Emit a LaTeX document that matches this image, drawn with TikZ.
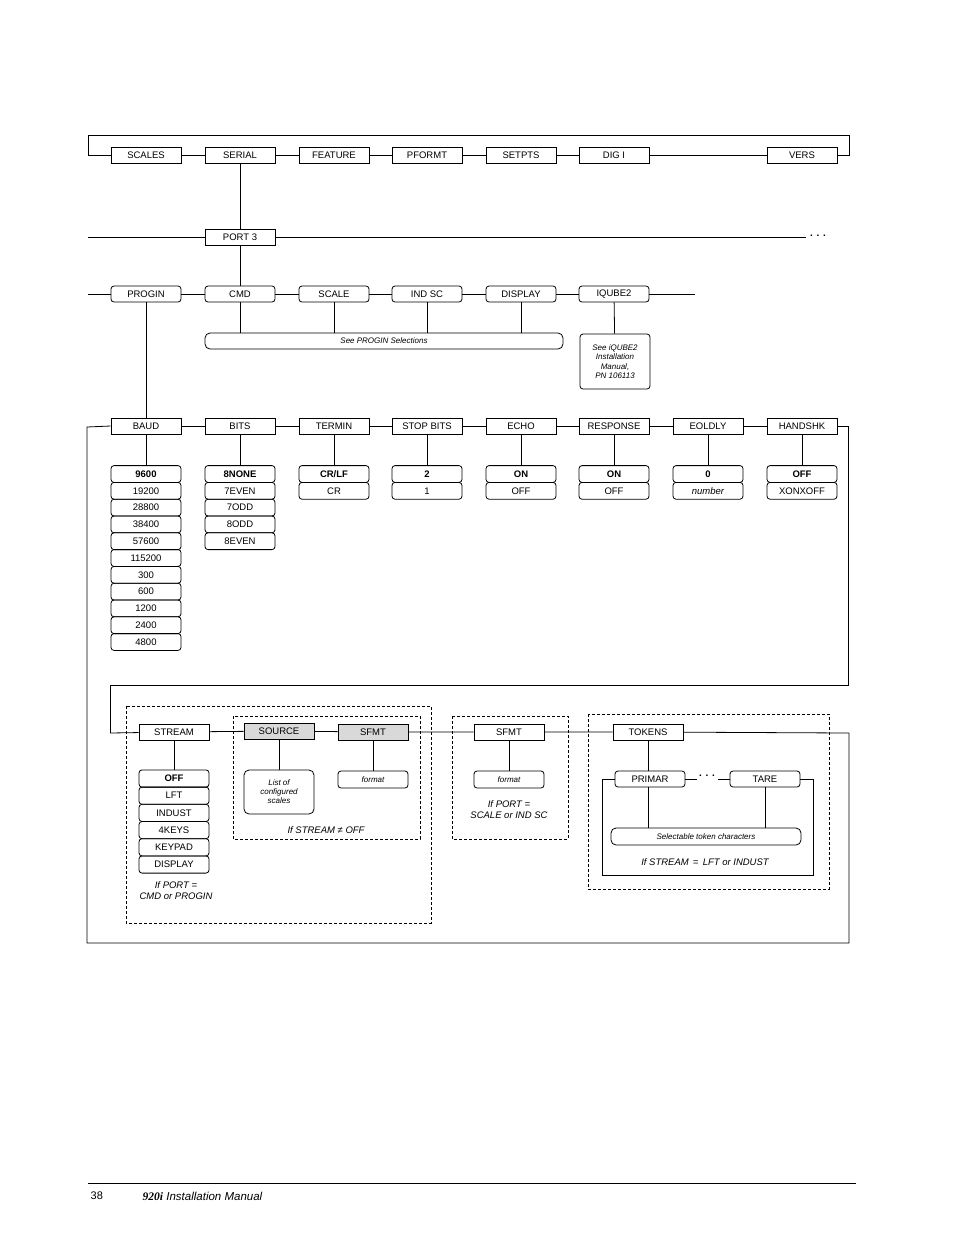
\documentclass[tikz,border=0pt]{standalone}
\usepackage{fontspec}
\setmainfont{Liberation Sans}
\newfontfamily\serifit{Liberation Serif}
\begin{document}
\begin{tikzpicture}[x=1pt,y=-1pt,line width=0.8pt,
  sq/.style={draw,rectangle,minimum width=70pt,minimum height=16pt,inner sep=0pt,font=\fontsize{9.5}{10}\selectfont},
  rd/.style={sq,rounded corners=3pt},
  opt/.style={rd,minimum height=16.8pt},
  gr/.style={fill=black!15},
  it/.style={font=\fontsize{9.5}{11}\selectfont\itshape,align=center},
  sit/.style={font=\fontsize{8}{9}\selectfont\itshape,align=center},
  dsh/.style={densely dashed,line width=0.7pt}]
\useasboundingbox (0,0) rectangle (954,1235);
% top row
\foreach \n/\x/\t in {scales/146/SCALES,serial/240/SERIAL,feature/334/FEATURE,pformt/427/PFORMT,setpts/521/SETPTS,digio/614/DIG I/O,vers/802/VERS}
  \node[sq] (\n) at (\x,155) {\t};
\draw (scales.west) -- (88,155) -- (88,135) -- (849,135) -- (849,155) -- (vers.east);
\draw (scales) -- (serial) -- (feature) -- (pformt) -- (setpts) -- (digio) -- (vers);
\node[sq] (port) at (240,237) {PORT 3};
\draw (serial) -- (port);
\coordinate (pl) at (88,237); \coordinate (pr) at (806,237);
\draw (pl) -- (port) -- (pr);
\node[font=\bfseries\fontsize{10}{10}\selectfont] (dots1) at (818,236) {. . .};
% progin row
\foreach \n/\x/\t in {progin/146/PROGIN,cmd/240/CMD,scale/334/SCALE,indsc/427/IND SC,display/521/DISPLAY,iqube/614/IQUBE2}
  \node[rd] (\n) at (\x,294) {\t};
\draw (port) -- (cmd);
\coordinate (ql) at (88,294); \coordinate (qr) at (695,294);
\draw (ql) -- (progin) -- (cmd) -- (scale) -- (indsc) -- (display) -- (iqube) -- (qr);
\node[draw,rounded corners=5pt,minimum width=358pt,minimum height=16pt,inner sep=0pt,sit] (see) at (384,341) {See PROGIN Selections};
\foreach \n in {cmd,scale,indsc,display} \draw (\n) -- (\n |- see.north);
\node[draw,rounded corners=3pt,minimum width=70pt,minimum height=55pt,inner sep=0pt,sit,font=\fontsize{8}{9.5}\selectfont\itshape] (iqm) at (615,361.5) {See iQUBE2\\Installation\\Manual,\\PN 106113};
\draw (iqube) -- (iqm);
% baud row
\foreach \n/\x/\t in {baud/146/BAUD,bits/240/BITS,termin/334/TERMIN,stopb/427/STOP BITS,echo/521/ECHO,resp/614/RESPONSE,eol/708/EOLDLY,hand/802/HANDSHK}
  \node[sq] (\n) at (\x,426) {\t};
\draw (progin) -- (baud);
\draw (baud) -- (bits) -- (termin) -- (stopb) -- (echo) -- (resp) -- (eol) -- (hand);
\draw (baud.west) -- (87,427) -- (87,943) -- (849,943) -- (849,733);
\draw (hand.east) -- (848,426) -- (848,685) -- (110,685) -- (110,733);
% option stacks
\newcommand\stackopts[3]{% name prefix, x, list
  \foreach \t [count=\i] in {#3} {\node[opt] (#1\i) at (#2,{474+(\i-1)*16.8}) {\t};}}
\stackopts{ba}{146}{\textbf{9600},19200,28800,38400,57600,115200,300,600,1200,2400,4800}
\stackopts{bi}{240}{\textbf{8NONE},7EVEN,7ODD,8ODD,8EVEN}
\stackopts{te}{334}{\textbf{CR/LF},CR}
\stackopts{st}{427}{\textbf{2},1}
\stackopts{ec}{521}{\textbf{ON},OFF}
\stackopts{re}{614}{\textbf{ON},OFF}
\stackopts{eo}{708}{\textbf{0},{\itshape number}}
\stackopts{ha}{802}{\textbf{OFF},XONXOFF}
\foreach \a/\b in {baud/ba1,bits/bi1,termin/te1,stopb/st1,echo/ec1,resp/re1,eol/eo1,hand/ha1} \draw (\a) -- (\b);
% stream row
\node[sq] (stream) at (174,732) {STREAM};
\node[sq,gr] (source) at (279,731) {SOURCE};
\node[sq,gr] (sfmt) at (373,732) {SFMT};
\node[sq] (sfmtb) at (509,732) {SFMT};
\node[sq] (tokens) at (648,732) {TOKENS};
\draw (110,733) -- (stream) -- (source) -- (sfmt) -- (sfmtb) -- (tokens) -- (849,733);
\foreach \t [count=\i] in {\textbf{OFF},LFT,INDUST,4KEYS,KEYPAD,DISPLAY}
  \node[opt,minimum height=17.2pt] (so\i) at (174,{778.5+(\i-1)*17.2}) {\t};
\draw (stream) -- (so1);
\node[it] (ifport1) at (176,891) {If PORT =\\CMD or PROGIN};
\node[draw,rounded corners=5pt,minimum width=70pt,minimum height=44pt,inner sep=0pt,sit] (list) at (279,792) {List of\\configured\\scales};
\draw (source) -- (list);
\node[rd,sit,minimum height=17pt] (fmt1) at (373,779.5) {format};
\draw (sfmt) -- (fmt1);
\node[it] (ifs) at (326,830) {If STREAM ≠ OFF};
\node[rd,sit,minimum height=17pt] (fmt2) at (509,779.5) {format};
\draw (sfmtb) -- (fmt2);
\node[it] (ifport2) at (509,810) {If PORT =\\SCALE or IND SC};
\draw[dsh] (126,706) rectangle (431,923);
\draw[dsh] (233,716) rectangle (420,839);
\draw[dsh] (452,716) rectangle (568,839);
\draw[dsh] (588,714) rectangle (829,889);
% tokens
\node[rd] (primar) at (650,779) {PRIMAR};
\node[rd] (tare) at (765,779) {TARE};
\draw (tokens) -- (primar.north -| tokens);
\draw (primar.east) -- (697,779);
\node[font=\bfseries\fontsize{10}{10}\selectfont] (dots2) at (707,776) {. . .};
\draw (718,779) -- (tare.west);
\draw (primar.west) -- (602,779) -- (602,875) -- (813,875) -- (813,779) -- (tare.east);
\node[draw,rounded corners=5pt,minimum width=190pt,minimum height=17pt,inner sep=0pt,sit] (sel) at (706,836.5) {Selectable token characters};
\draw (648,787) -- (648,828);
\draw (765,787) -- (765,828);
\node[it] (ifs2) at (705,862) {If STREAM \,=\, LFT or INDUST};
% footer
\draw[line width=0.6pt] (88,1183) -- (856,1183);
\node[anchor=west,font=\fontsize{11}{12}\selectfont] (pg) at (87,1196) {38};
\node[anchor=west,font=\fontsize{11.5}{12}\selectfont] (man) at (139,1196) {{\serifit\bfseries\itshape 920\textit{i}} \itshape Installation Manual};
\end{tikzpicture}
\end{document}
